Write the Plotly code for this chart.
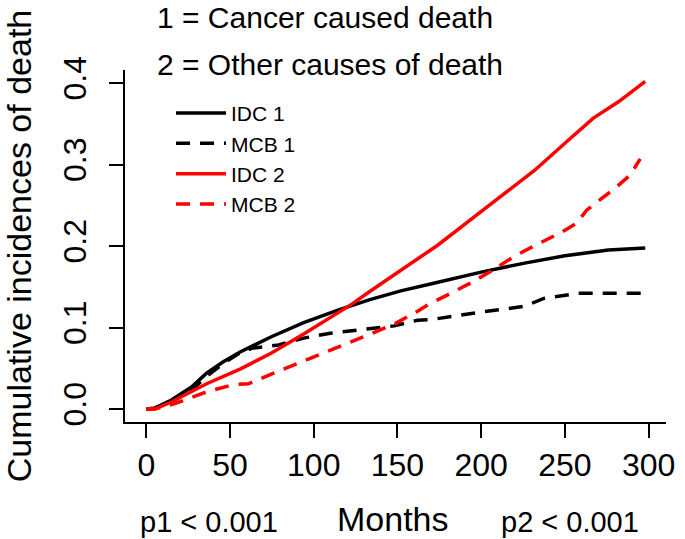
import plotly.graph_objects as go

# cumulative incidence curves (months, value)
idc1_months = [0, 5, 15, 27, 36, 46, 56, 75, 94, 114, 133, 152, 171, 200, 226, 250, 276, 290, 298]
idc1_vals = [0, 0.001, 0.011, 0.027, 0.044, 0.058, 0.070, 0.089, 0.106, 0.121, 0.134, 0.145, 0.154,
             0.168, 0.179, 0.188, 0.195, 0.197, 0.1975]

mcb1_months = [0, 5, 15, 27, 36, 46, 56, 63, 79, 94, 110, 133, 148, 162, 171, 200, 226, 237, 250,
               258, 280, 298]
mcb1_vals = [0, 0.001, 0.009, 0.023, 0.040, 0.056, 0.069, 0.0745, 0.0785, 0.087, 0.093, 0.098,
             0.102, 0.109, 0.110, 0.119, 0.126, 0.1355, 0.140, 0.142, 0.142, 0.142]

idc2_months = [0, 5, 15, 36, 56, 75, 94, 114, 123, 133, 152, 174, 203, 232, 251, 267, 282, 298]
idc2_vals = [0, 0.0, 0.0086, 0.031, 0.049, 0.069, 0.092, 0.117, 0.129, 0.1436, 0.170, 0.201,
             0.247, 0.293, 0.328, 0.357, 0.377, 0.402]

mcb2_months = [0, 5, 17, 36, 52, 61, 75, 94, 114, 133, 148, 162, 169, 180, 194, 205, 219.5, 230.5,
               238, 248, 257, 263, 273, 280, 289, 295]
mcb2_vals = [0, 0.0, 0.0066, 0.021, 0.030, 0.031, 0.043, 0.059, 0.076, 0.092, 0.104, 0.120, 0.129,
             0.140, 0.155, 0.168, 0.187, 0.199, 0.207, 0.217, 0.228, 0.244, 0.260, 0.271, 0.287, 0.307]

x_ticks = [0, 50, 100, 150, 200, 250, 300]
y_ticks = [0, 0.1, 0.2, 0.3, 0.4]
y_ticktext = ["0.0", "0.1", "0.2", "0.3", "0.4"]

FONT = "Liberation Sans, Arial, sans-serif"
DASH = "14px,10px"
P_Y = (422 - 522) / 352  # p-value row under the tick labels
TITLE_Y = (422 - 519) / 352

fig = go.Figure()
series = [
    ("IDC 1", idc1_months, idc1_vals, "black", "solid"),
    ("MCB 1", mcb1_months, mcb1_vals, "black", DASH),
    ("IDC 2", idc2_months, idc2_vals, "#ff0000", "solid"),
    ("MCB 2", mcb2_months, mcb2_vals, "#ff0000", DASH),
]
for name, xs, ys, col, dash in series:
    fig.add_trace(go.Scatter(x=xs, y=ys, mode="lines", name=name,
                             line=dict(color=col, width=3.5, dash=dash)))

fig.update_layout(
    width=685, height=539,
    margin=dict(l=117, r=10, t=70, b=117),
    plot_bgcolor="white", paper_bgcolor="white",
    font=dict(family=FONT, color="black"),
    legend=dict(x=0.085, y=0.935, xanchor="left", yanchor="top",
                font=dict(size=21), bgcolor="rgba(0,0,0,0)",
                tracegroupgap=0, itemwidth=50),
    annotations=[
        dict(text="1 = Cancer caused death", x=0.0556, y=1.148, xref="paper", yref="paper",
             xanchor="left", yanchor="middle", showarrow=False, font=dict(size=30)),
        dict(text="2 = Other causes of death", x=0.0556, y=1.017, xref="paper", yref="paper",
             xanchor="left", yanchor="middle", showarrow=False, font=dict(size=30)),
        dict(text="p1 < 0.001", x=(204 - 117) / 558, y=P_Y, xref="paper",
             yref="paper", xanchor="center", yanchor="middle", showarrow=False,
             font=dict(size=29)),
        dict(text="Months", x=(393 - 117) / 558, y=TITLE_Y, xref="paper",
             yref="paper", xanchor="center", yanchor="middle", showarrow=False,
             font=dict(size=34)),
        dict(text="p2 < 0.001", x=(576 - 117) / 558, y=P_Y, xref="paper",
             yref="paper", xanchor="center", yanchor="middle", showarrow=False,
             font=dict(size=29)),
    ],
)

fig.update_xaxes(
    range=[-12.74, 310.4], tickvals=x_ticks, ticks="outside", ticklen=14, tickwidth=1.5,
    tickcolor="black", showline=True, linecolor="black", linewidth=1.5, showgrid=False,
    zeroline=False, tickfont=dict(size=32),
)
fig.update_yaxes(
    range=[-0.01595, 0.416], tickvals=y_ticks, ticktext=y_ticktext, ticks="outside",
    ticklen=14, tickwidth=1.5, tickcolor="black", showline=True, linecolor="black",
    linewidth=1.5, showgrid=False, zeroline=False, tickangle=-90, tickfont=dict(size=32),
    ticklabelstandoff=10,
    title=dict(text="Cumulative incidences of death", font=dict(size=34), standoff=24),
)

# drop the default body margin so the figure sits at the page corner
fig.write_html("out.html", config={"displayModeBar": False},
               post_script="document.body.style.margin='0';")
